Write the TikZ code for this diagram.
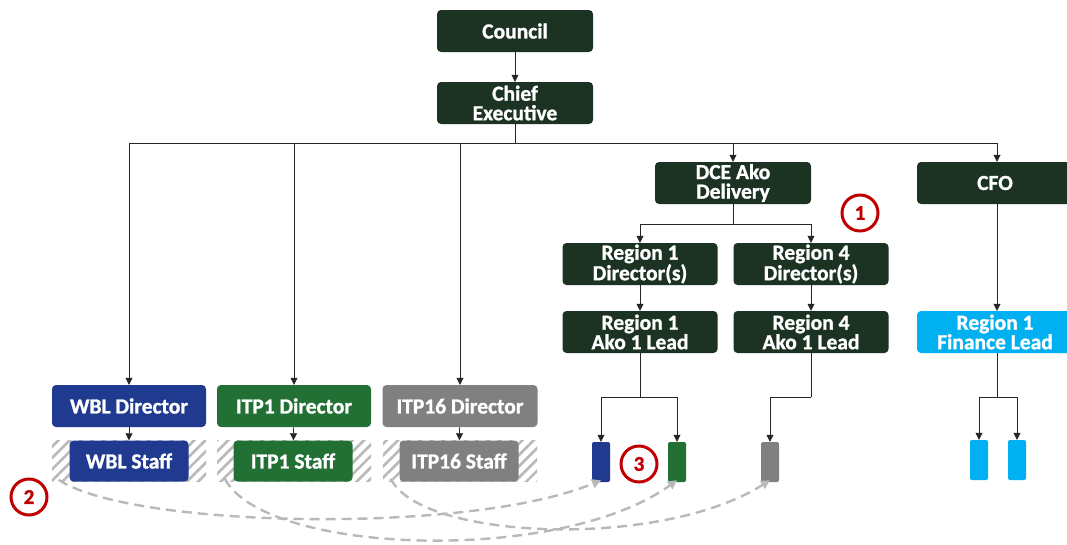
\documentclass[tikz,border=0pt]{standalone}
\usepackage{fontspec}
\setmainfont{Carlito}[BoldFeatures={FakeBold=1.2}]
\usetikzlibrary{arrows.meta,patterns.meta,positioning}
\definecolor{dkgreen}{HTML}{1C3324}
\definecolor{wblblue}{HTML}{203A8F}
\definecolor{itpgreen}{HTML}{227034}
\definecolor{itpgray}{HTML}{808080}
\definecolor{fincyan}{HTML}{00B0F0}
\definecolor{mark}{HTML}{C00000}
\tikzset{
  orgbox/.style={rounded corners=4pt, fill=dkgreen, text=white, minimum width=156pt, minimum height=42pt, inner sep=0pt, align=center, font=\fontsize{21.5}{19.5}\selectfont\bfseries},
  staffbox/.style={orgbox, minimum width=119pt, minimum height=41pt},
  hatchbox/.style={minimum width=154pt, minimum height=41pt, inner sep=0pt, pattern={Lines[angle=45,distance=8pt,line width=2.6pt]}, pattern color=gray!55},
  tinybox/.style={rounded corners=2pt, minimum width=18pt, minimum height=40pt, inner sep=0pt},
  conn/.style={line width=0.7pt, draw=black!85, -{Triangle[length=7pt,width=7pt]}},
  plain/.style={line width=0.7pt, draw=black!85},
  dashlink/.style={draw=gray!55, line width=2.4pt, dash pattern=on 10pt off 6pt, -{Triangle[length=9pt,width=9pt]}},
  numcircle/.style={circle, draw=mark, line width=3pt, minimum size=36pt, inner sep=0pt, text=mark, font=\fontsize{21}{21}\selectfont\bfseries}
}
\begin{document}
\begin{tikzpicture}[x=1pt,y=-1pt]
\clip (0,0) rectangle (1067,544);
\fill[white] (0,0) rectangle (1067,544);

% top
\node[orgbox] (council) at (515,31) {Council};
\node[orgbox] (chief) at (515,103) {Chief\\Executive};
\node[orgbox] (dce) at (733,183) {DCE Ako\\Delivery};
\node[orgbox] (cfo) at (995,183) {CFO};

% regions
\node[orgbox, minimum width=155pt] (r1d) at (640,264) {Region 1\\Director(s)};
\node[orgbox, minimum width=155pt] (r4d) at (811,264) {Region 4\\Director(s)};
\node[orgbox, minimum width=155pt] (r1a) at (640,332) {Region 1\\Ako 1 Lead};
\node[orgbox, minimum width=155pt] (r4a) at (811,332) {Region 4\\Ako 1 Lead};
\node[orgbox, fill=fincyan] (fin) at (995,332) {Region 1\\Finance Lead};

% directors
\node[orgbox, fill=wblblue, minimum width=154pt] (wbl) at (129,406) {WBL Director};
\node[orgbox, fill=itpgreen, minimum width=154pt] (itp1) at (294,406) {ITP1 Director};
\node[orgbox, fill=itpgray, minimum width=155pt] (itp16) at (460,406) {ITP16 Director};

% staff
\node[hatchbox] (wblh) at (129,461) {};
\node[hatchbox] (itp1h) at (294,461) {};
\node[hatchbox] (itp16h) at (460,461) {};
\node[staffbox, fill=wblblue] (wbls) at (129,461) {WBL Staff};
\node[staffbox, fill=itpgreen] (itp1s) at (293,461) {ITP1 Staff};
\node[staffbox, fill=itpgray] (itp16s) at (459,461) {ITP16 Staff};

% tiny boxes
\node[tinybox, fill=wblblue] (tb1) at (601,462) {};
\node[tinybox, fill=itpgreen] (tg1) at (677,462) {};
\node[tinybox, fill=itpgray] (tgr) at (770,462) {};
\node[tinybox, fill=fincyan] (tc1) at (979,460) {};
\node[tinybox, fill=fincyan] (tc2) at (1017,460) {};

% bus coordinates
\coordinate (bus) at (515,143);
\coordinate (dbus) at (733,224);
\coordinate (abus1) at (640,397);
\coordinate (abus4) at (811,397);
\coordinate (fbus) at (997,397);

% connectors
\draw[conn] (council) -- (chief);
\draw[plain] (chief.south) -- (bus);
\draw[conn] (bus) -| (wbl.north);
\draw[conn] (bus) -| (itp1.north);
\draw[conn] (bus) -| (itp16.north);
\draw[conn] (bus) -| (dce.north);
\draw[conn] (bus) -| ([xshift=2pt]cfo.north);
\draw[plain] (dce.south) -- (dbus);
\draw[conn] (dbus) -| (r1d.north);
\draw[conn] (dbus) -| (r4d.north);
\draw[conn] (r1d) -- (r1a);
\draw[conn] (r4d) -- (r4a);
\draw[conn] ([xshift=2pt]cfo.south) -- ([xshift=2pt]fin.north);
\draw[plain] (r1a.south) -- (abus1);
\draw[conn] (abus1) -| (tb1.north);
\draw[conn] (abus1) -| (tg1.north);
\draw[plain] (r4a.south) -- (abus4);
\draw[conn] (abus4) -| (tgr.north);
\draw[plain] ([xshift=2pt]fin.south) -- (fbus);
\draw[conn] (fbus) -| (tc1.north);
\draw[conn] (fbus) -| (tc2.north);
\draw[conn] (wbl) -- (wbls);
\draw[conn] (itp1) -- (itp1s);
\draw[conn] (itp16) -- (itp16s);

% dashed links
\draw[dashlink] ([xshift=8pt,yshift=3pt]wblh.south west) .. controls (130,528) and (470,535) .. ([yshift=2pt]tb1.south);
\draw[dashlink] ([xshift=8pt,yshift=3pt]itp1h.south west) .. controls (265,555) and (560,565) .. ([yshift=2pt]tg1.south);
\draw[dashlink] ([xshift=8pt,yshift=3pt]itp16h.south west) .. controls (420,540) and (660,550) .. ([yshift=2pt]tgr.south);

% numbered markers
\node[numcircle] (m1) at (860,213) {1};
\node[numcircle] (m2) at (29,497) {2};
\node[numcircle] (m3) at (639,464) {3};
\end{tikzpicture}
\end{document}
